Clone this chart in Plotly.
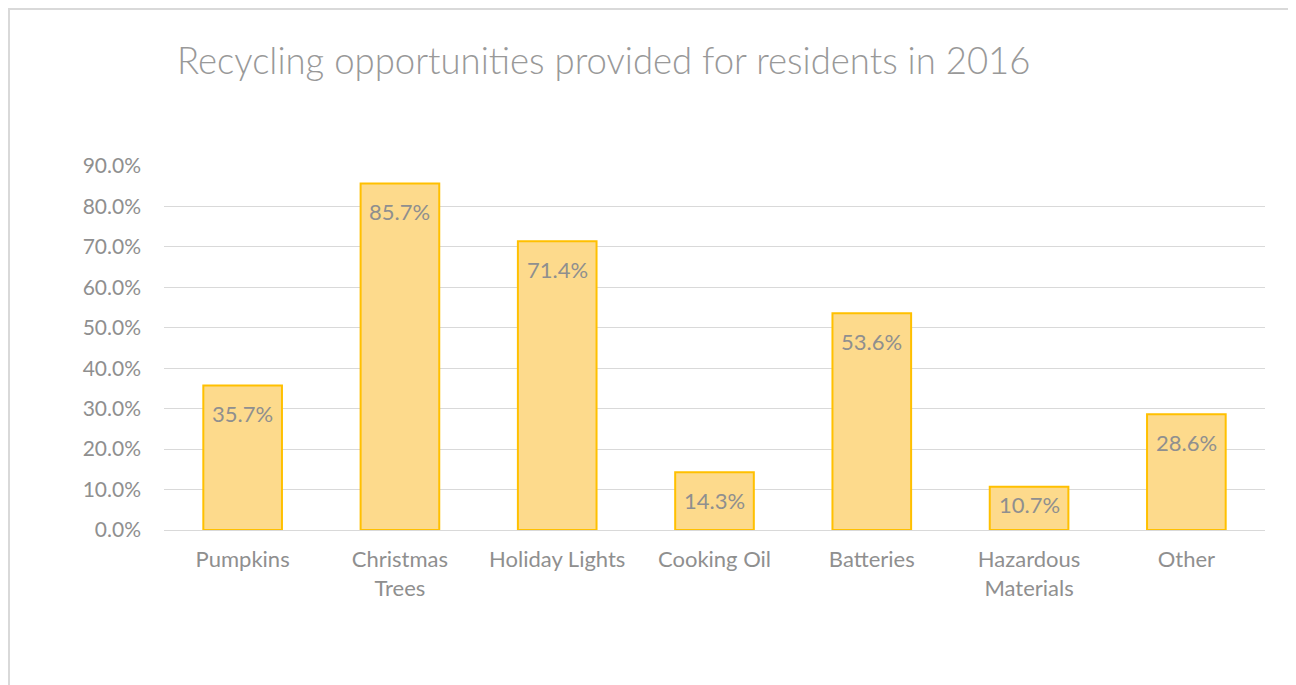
import plotly.graph_objects as go

categories = ["Pumpkins", "Christmas<br>Trees", "Holiday Lights", "Cooking Oil",
              "Batteries", "Hazardous<br>Materials", "Other"]
values = [0.357, 0.857, 0.714, 0.143, 0.536, 0.107, 0.286]
y_ticks = [0.0, 0.1, 0.2, 0.3, 0.4, 0.5, 0.6, 0.7, 0.8, 0.9]

FONT = "Lato"
GRAY = "#8f8f8f"

W, H = 1296, 685
L, R, T, B = 156, 39, 158, 163
PW, PH = W - L - R, H - T - B
Y_MAX = 0.9

fig = go.Figure()
fig.add_trace(go.Bar(
    x=categories, y=values,
    marker=dict(color="#FDDA8C", line=dict(color="#FFC000", width=2)),
    hoverinfo="x+y",
))


def label_shift(v):
    bar_px = v / Y_MAX * PH
    return -28 if bar_px > 50 else -18


annotations = [
    dict(x=c, y=v, xref="x", yref="y", text=f"{v*100:.1f}%", showarrow=False,
         yanchor="middle", yshift=label_shift(v),
         font=dict(family=FONT, size=22, color=GRAY))
    for c, v in zip(categories, values)
]

fig.update_layout(
    width=W, height=H,
    margin=dict(l=L, r=R, t=T, b=B),
    paper_bgcolor="white", plot_bgcolor="white",
    bargap=0.5,
    showlegend=False,
    title=dict(text="Recycling opportunities provided for residents in 2016",
               x=169/W, xanchor="left", y=1-53/H, yanchor="middle",
               font=dict(family=FONT, size=36.5, color="#999999", weight=300)),
    xaxis=dict(showgrid=False, showline=True, linecolor="#d9d9d9", linewidth=1,
               tickfont=dict(family=FONT, size=22, color=GRAY), ticks="",
               ticklabelstandoff=10),
    yaxis=dict(range=[0, Y_MAX], tickvals=y_ticks, tickformat=".1%",
               showgrid=True, gridcolor="#d9d9d9", gridwidth=1,
               zeroline=False, showline=False, ticks="",
               tickfont=dict(family=FONT, size=21, color=GRAY),
               ticklabelstandoff=22),
    annotations=annotations,
    shapes=[dict(type="rect", xref="paper", yref="paper",
                 x0=-(L - 1) / PW, x1=1.2, y0=-0.6, y1=1 + (T - 1) / PH,
                 line=dict(color="#d9d9d9", width=2), layer="below")],
)

fig.write_html("out.html")
